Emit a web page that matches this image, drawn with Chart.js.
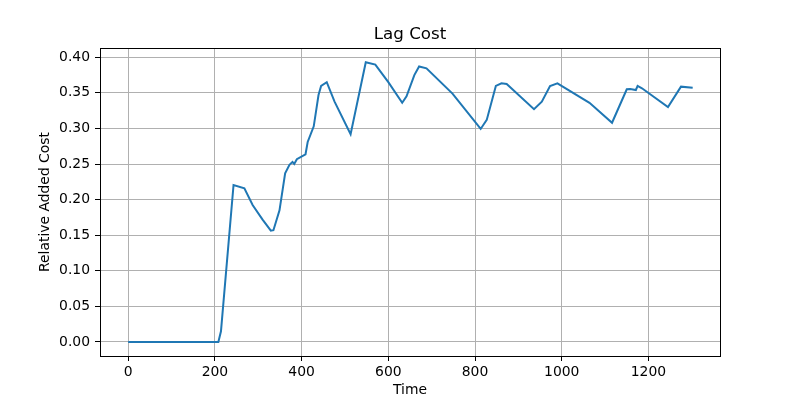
<!DOCTYPE html>
<html>
<head>
<meta charset="utf-8">
<script src="https://cdn.jsdelivr.net/npm/chart.js@4/dist/chart.umd.min.js"></script>
<style>
  html, body { margin: 0; padding: 0; background: #fff; }
  #wrap { width: 800px; height: 400px; }
</style>
</head>
<body>
<div id="wrap"><canvas id="chart" width="800" height="400"></canvas></div>
<script>
const TITLE = "Lag Cost";
const X_LABEL = "Time";
const Y_LABEL = "Relative Added Cost";

// values
const times = [0, 100, 208, 214, 243, 268, 287, 310, 329, 335, 349, 362, 372, 379, 383, 389, 409,
    414, 428, 439, 445, 458, 476, 513, 548, 570, 600, 632, 642, 660, 671, 688, 748, 813, 827,
    848, 861, 873, 936, 954, 973, 990, 1064, 1116, 1150, 1158, 1171, 1175, 1185, 1245, 1275, 1302];
const cost = [0, 0, 0, 0.015, 0.2206, 0.216, 0.1925, 0.172, 0.1564, 0.157, 0.185, 0.237, 0.249,
    0.253, 0.250, 0.2567, 0.2637, 0.281, 0.303, 0.347, 0.3597, 0.365, 0.3377, 0.292, 0.393, 0.3897,
    0.365, 0.336, 0.345, 0.375, 0.387, 0.3845, 0.349, 0.2993, 0.312, 0.3597, 0.3634, 0.3625, 0.327,
    0.3376, 0.3597, 0.3634, 0.336, 0.308, 0.355, 0.3555, 0.354, 0.3597, 0.3564, 0.330, 0.3587, 0.357];

const xTicks = [0, 200, 400, 600, 800, 1000, 1200];
const yTicks = [0, 0.05, 0.10, 0.15, 0.20, 0.25, 0.30, 0.35, 0.40];

const FONT = "'DejaVu Sans', sans-serif";

const points = times.map((t, i) => ({x: t, y: cost[i]}));

// matplotlib style frame + title centred on the axes
const framePlugin = {
    id: "frame",
    afterDraw(chart) {
        const c = chart.ctx;
        const a = chart.chartArea;
        c.save();
        c.strokeStyle = "#000";
        c.lineWidth = 1;
        c.strokeRect(Math.round(a.left) + 0.5, Math.round(a.top) + 0.5,
            Math.round(a.right - a.left), Math.round(a.bottom - a.top));
        c.fillStyle = "#000";
        c.font = "16.7px " + FONT;
        c.textAlign = "center";
        c.textBaseline = "middle";
        c.fillText(TITLE, (a.left + a.right) / 2, 35);
        c.restore();
    }
};

new Chart(document.getElementById("chart"), {
    type: "scatter",
    data: {
        datasets: [{
            data: points,
            showLine: true,
            borderColor: "#1f77b4",
            borderWidth: 2,
            pointRadius: 0,
            tension: 0
        }]
    },
    options: {
        responsive: false,
        animation: false,
        layout: {padding: {top: 48, right: 80, left: 0, bottom: 0}},
        plugins: {legend: {display: false}, tooltip: {enabled: false}},
        scales: {
            x: {
                type: "linear",
                min: -65,
                max: 1365,
                afterBuildTicks: axis => { axis.ticks = xTicks.map(v => ({value: v})); },
                afterFit: axis => { axis.height = 44; },
                grid: {color: "#b0b0b0", tickColor: "#000", tickLength: 5, lineWidth: 1},
                border: {display: false},
                ticks: {color: "#000", font: {family: FONT, size: 13.9}, padding: 3, maxRotation: 0,
                    callback: v => String(v)},
                title: {display: true, text: X_LABEL, color: "#000", font: {family: FONT, size: 13.9}, padding: {top: 0, bottom: 1}}
            },
            y: {
                min: -0.0197,
                max: 0.413,
                afterBuildTicks: axis => { axis.ticks = yTicks.map(v => ({value: v})); },
                afterFit: axis => { axis.width = 100; },
                grid: {color: "#b0b0b0", tickColor: "#000", tickLength: 5, lineWidth: 1},
                border: {display: false},
                ticks: {color: "#000", font: {family: FONT, size: 13.9}, padding: 5,
                    callback: v => v.toFixed(2)},
                title: {display: true, text: Y_LABEL, color: "#000", font: {family: FONT, size: 13.9}, padding: {top: 37, bottom: 0}}
            }
        }
    },
    plugins: [framePlugin]
});
</script>
</body>
</html>
